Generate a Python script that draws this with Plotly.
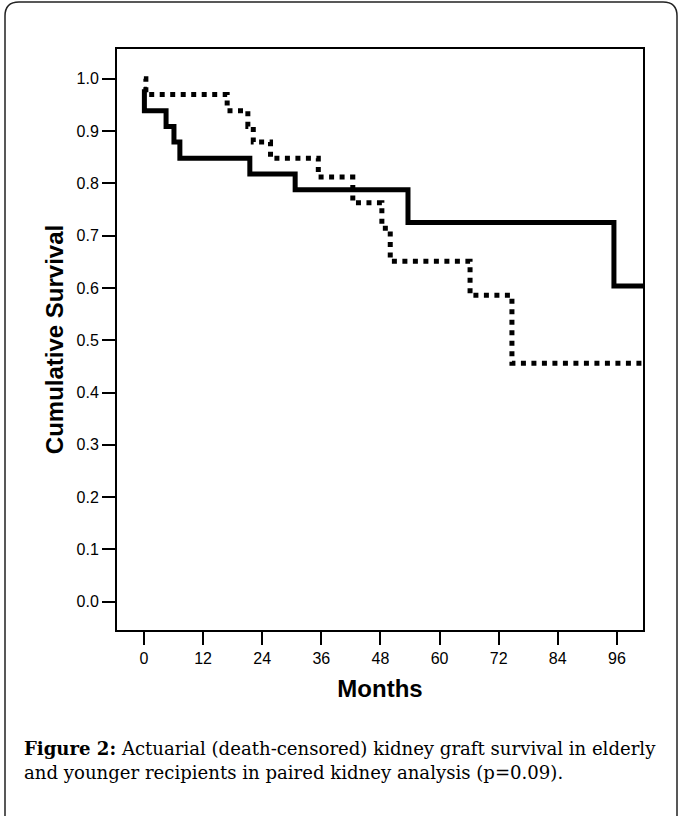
import plotly.graph_objects as go

# Kaplan-Meier style step data
months_solid = [0, 0.1, 4.5, 6.1, 7.3, 21.5, 30.7, 53.6, 95.4, 101.3]
surv_solid = [0.98, 0.939, 0.909, 0.879, 0.848, 0.818, 0.788, 0.725, 0.604, 0.604]

months_dotted = [0, 0.4, 16.9, 21.1, 22.2, 25.7, 35.4, 42.4, 48.3, 50.0, 66.2, 74.7, 101.3]
surv_dotted = [1.0, 0.970, 0.939, 0.909, 0.879, 0.848, 0.812, 0.763, 0.714, 0.651, 0.586, 0.456, 0.456]

x_ticks = [0, 12, 24, 36, 48, 60, 72, 84, 96]
y_ticks = [0.0, 0.1, 0.2, 0.3, 0.4, 0.5, 0.6, 0.7, 0.8, 0.9, 1.0]
y_tick_labels = ["%.1f" % v for v in y_ticks]

x_title = "Months"
y_title = "Cumulative Survival"
caption = ("<b>Figure 2:</b> Actuarial (death-censored) kidney graft survival in elderly"
           "<br>and younger recipients in paired kidney analysis (p=0.09).")

fig = go.Figure()
fig.add_trace(go.Scatter(x=months_dotted, y=surv_dotted, mode="lines",
                         line=dict(shape="hv", color="black", width=5, dash="5px,5.5px"),
                         showlegend=False, hoverinfo="skip"))
fig.add_trace(go.Scatter(x=months_solid, y=surv_solid, mode="lines",
                         line=dict(shape="hv", color="black", width=5),
                         showlegend=False, hoverinfo="skip"))

axis_font = dict(family="Liberation Sans, Arial, sans-serif", size=16, color="black")
title_font = dict(family="Liberation Sans, Arial, sans-serif", size=24, color="black", weight="bold")

fig.update_xaxes(range=[-5.46, 101.3], tickvals=x_ticks, ticktext=[str(v) for v in x_ticks],
                 ticks="outside", ticklen=13, tickwidth=2, tickcolor="black",
                 showline=True, linewidth=2, linecolor="black", mirror=True,
                 showgrid=False, zeroline=False, tickfont=axis_font,
                 title=dict(text=x_title, font=title_font, standoff=14))
fig.update_yaxes(range=[-0.054, 1.057], tickvals=y_ticks, ticktext=y_tick_labels,
                 ticks="outside", ticklen=13, tickwidth=2, tickcolor="black",
                 showline=True, linewidth=2, linecolor="black", mirror=True,
                 showgrid=False, zeroline=False, tickfont=axis_font,
                 title=dict(text=y_title, font=title_font, standoff=6))

# outer rounded frame (pixel offsets from the plot's bottom-left corner)
fig.add_shape(type="path", xref="paper", yref="paper", xsizemode="pixel", ysizemode="pixel",
              xanchor=0, yanchor=0,
              path="M -112,-200 L -112,614 Q -112,628 -98,628 L 546,628 Q 560,628 560,614 L 560,-200",
              line=dict(color="#222222", width=1.5))

fig.add_annotation(text=caption, xref="paper", yref="paper", x=-0.181, y=-0.183,
                   xanchor="left", yanchor="top", align="left", showarrow=False,
                   font=dict(family="DejaVu Serif, serif", size=18.1, color="black"))

fig.update_layout(width=678, height=816, plot_bgcolor="white", paper_bgcolor="white",
                  margin=dict(l=117, r=35, t=49, b=186, autoexpand=False))

fig.write_html("out.html", config={"displayModeBar": False},
               post_script="document.body.style.margin='0px';")
